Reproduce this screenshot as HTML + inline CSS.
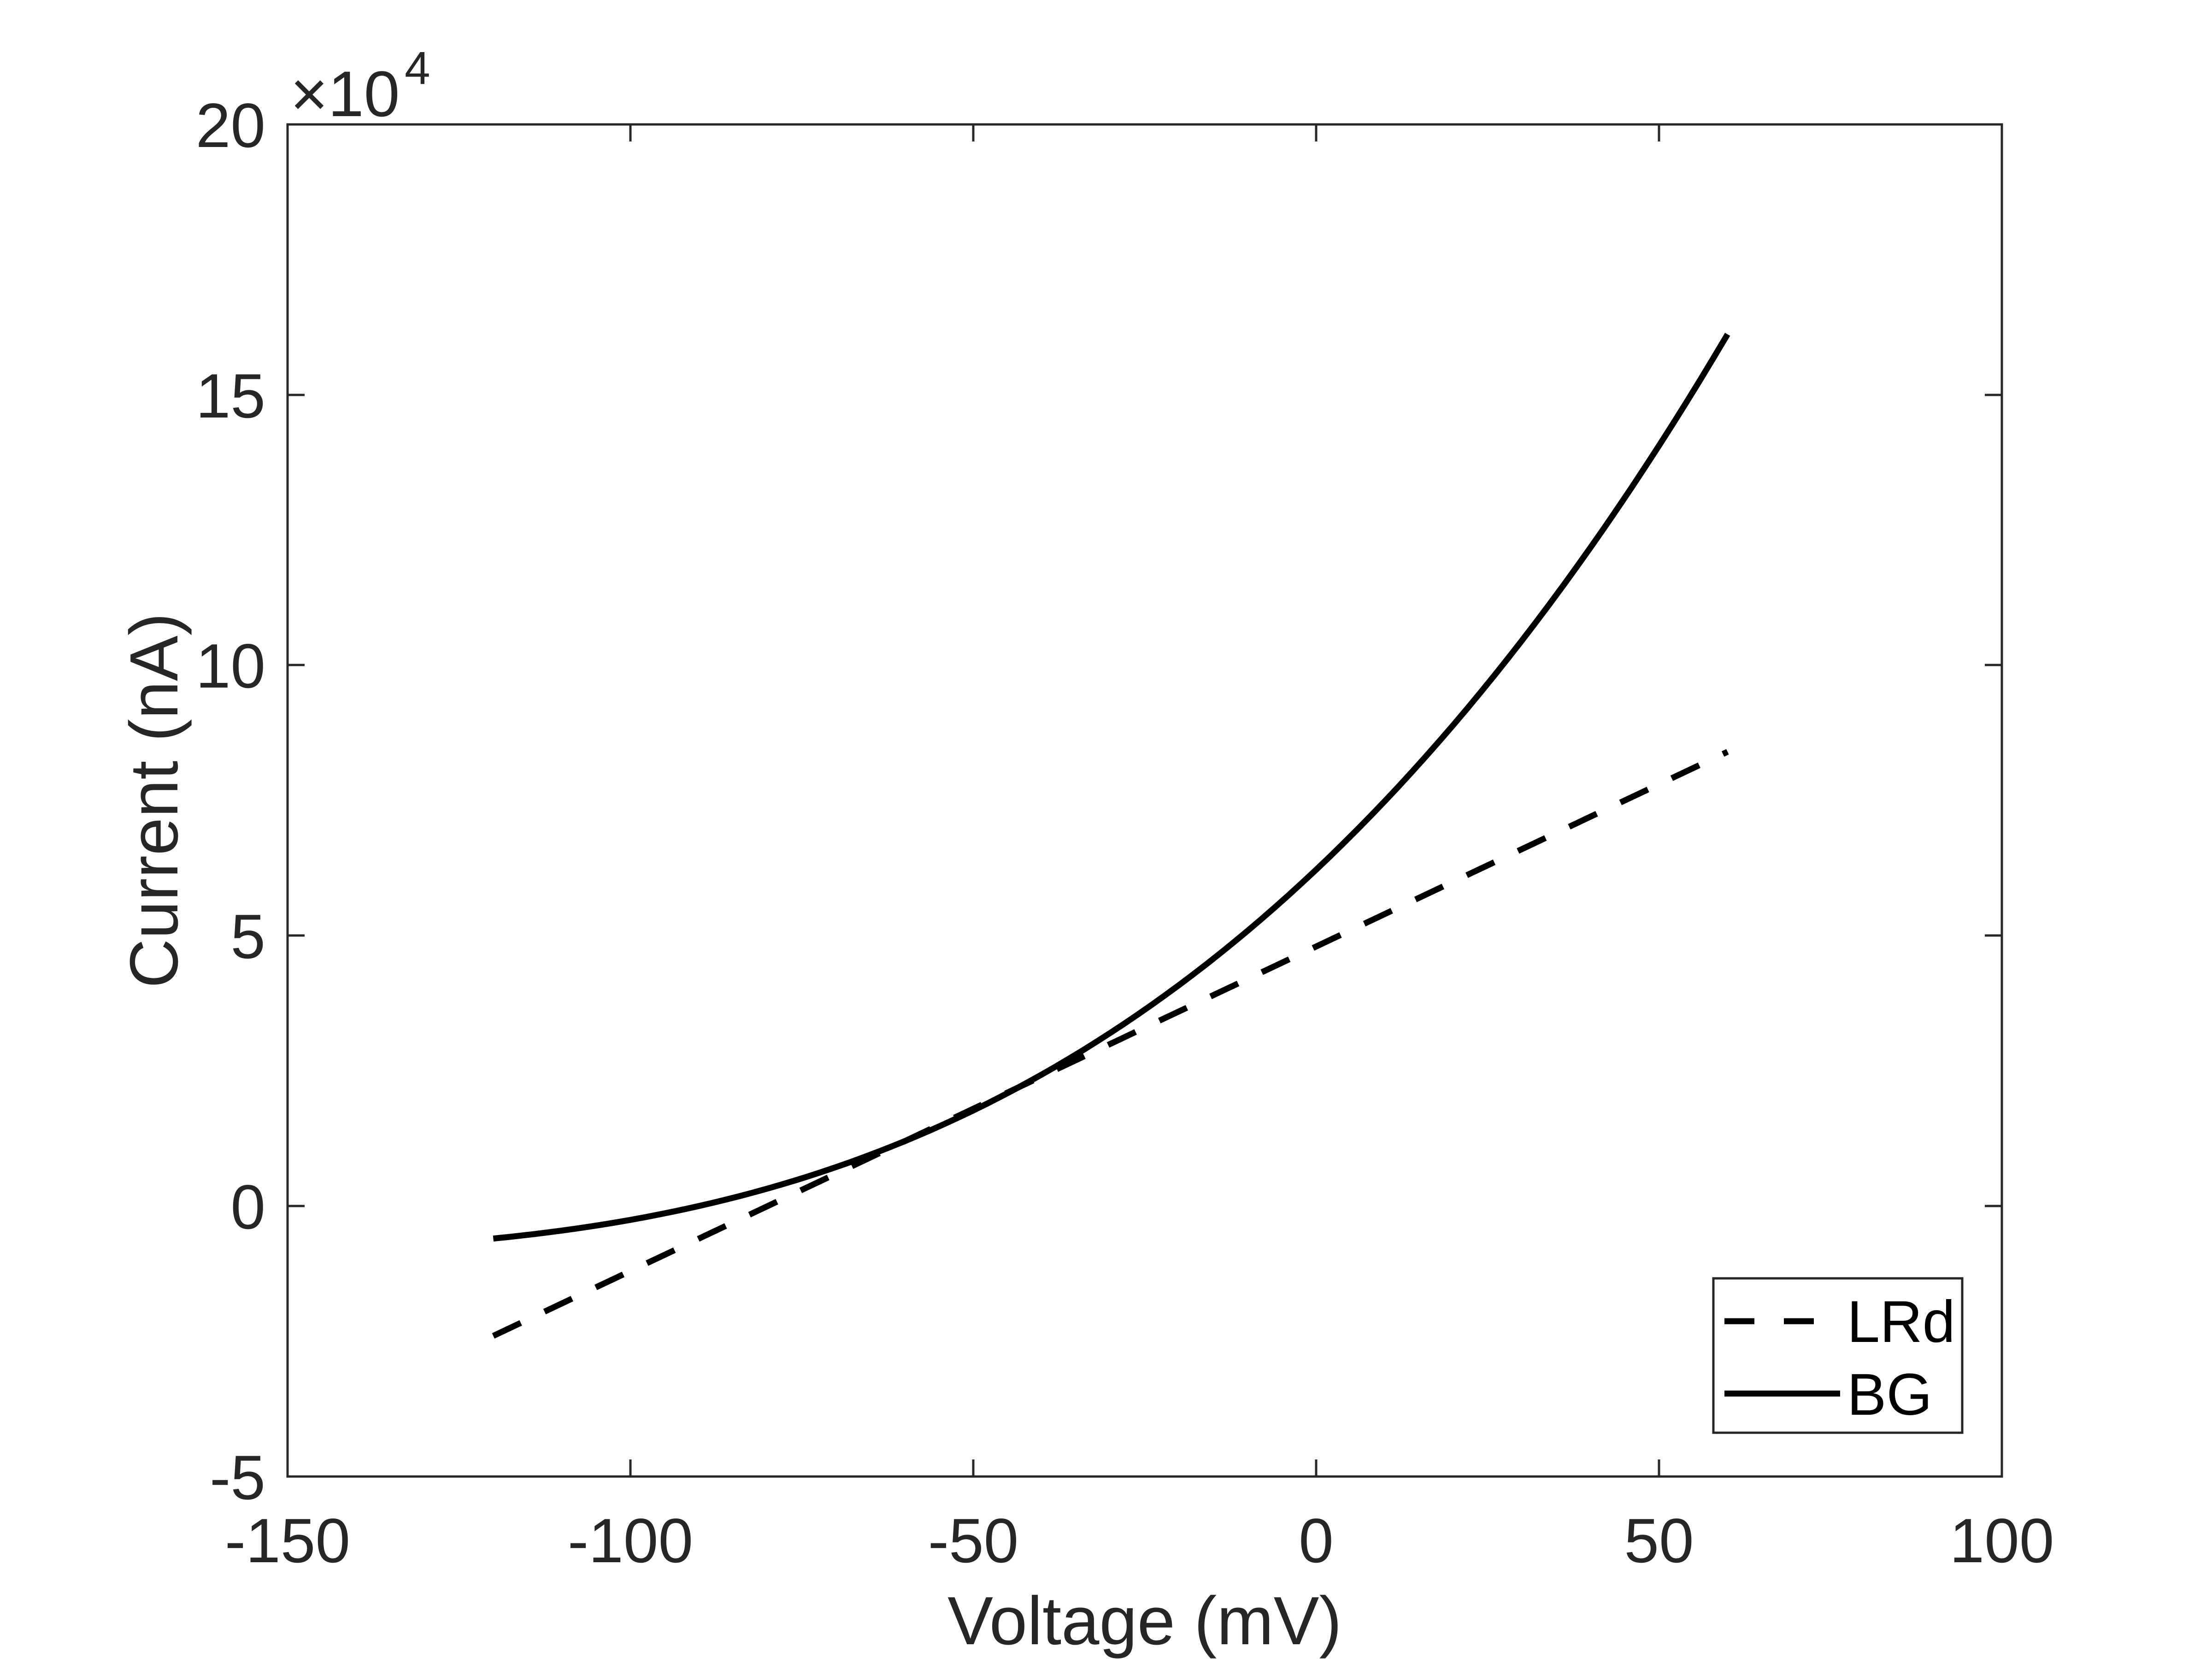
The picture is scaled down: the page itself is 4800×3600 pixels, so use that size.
<!DOCTYPE html>
<html><head><meta charset="utf-8"><style>
html,body{margin:0;padding:0;background:#fff;}
svg{display:block;}
text{font-family:"Liberation Sans",Arial,sans-serif;fill:#262626;}
</style></head><body>
<svg id="s" width="4800" height="3600" viewBox="0 0 4800 3600" xmlns="http://www.w3.org/2000/svg">
<rect width="4800" height="3600" fill="#fff"/>
<g stroke="#262626" stroke-width="5" fill="none">
<rect x="624" y="270" width="3720" height="2934"/>
<path d="M1368,3204v-37M2112,3204v-37M2856,3204v-37M3600,3204v-37M1368,270v37M2112,270v37M2856,270v37M3600,270v37"/>
<path d="M624,2617h37M624,2030h37M624,1443h37M624,857h37M4344,2617h-37M4344,2030h-37M4344,1443h-37M4344,857h-37"/>
</g>
<g font-size="136" text-anchor="middle">
<text x="624" y="3390">-150</text>
<text x="1368" y="3390">-100</text>
<text x="2112" y="3390">-50</text>
<text x="2856" y="3390">0</text>
<text x="3600" y="3390">50</text>
<text x="4344" y="3390">100</text>
</g>
<g font-size="136" text-anchor="end">
<text x="576" y="3253">-5</text>
<text x="576" y="2666">0</text>
<text x="576" y="2079">5</text>
<text x="576" y="1492">10</text>
<text x="576" y="906">15</text>
<text x="576" y="319">20</text>
</g>
<text x="630" y="252" font-size="140">×10</text>
<text x="878" y="182" font-size="100">4</text>
<text x="2484" y="3568" font-size="148" text-anchor="middle">Voltage (mV)</text>
<text transform="translate(385,1737) rotate(-90)" font-size="148" text-anchor="middle">Current (nA)</text>
<line x1="1070.4" y1="2898.9" x2="3748.8" y2="1631.4" stroke="#000" stroke-width="13" stroke-dasharray="66 57"/>
<path id="bg" d="" stroke="#000" stroke-width="13" fill="none"/>
<rect x="3718" y="2774" width="540" height="335" fill="#fff" stroke="#262626" stroke-width="5"/>
<line x1="3742" y1="2867" x2="3965" y2="2867" stroke="#000" stroke-width="13" stroke-dasharray="65 64"/>
<line x1="3742" y1="3024" x2="3993" y2="3024" stroke="#000" stroke-width="13"/>
<text x="4008" y="2912" font-size="128" style="fill:#000">LRd</text>
<text x="4008" y="3070" font-size="128" style="fill:#000">BG</text>
</svg>
<script>
(function(){
var d="";
for(var V=-120;V<=60.001;V+=2){
var t=V/60;
var I=6.22+7.183*t+2.44*t*t+0.2767*t*t*t;
var x=624+(V+150)*14.88, y=3204-(I+5)*117.36;
d+=(d?"L":"M")+x.toFixed(1)+","+y.toFixed(1);
}
document.getElementById("bg").setAttribute("d",d);
})();
</script>
</body></html>
